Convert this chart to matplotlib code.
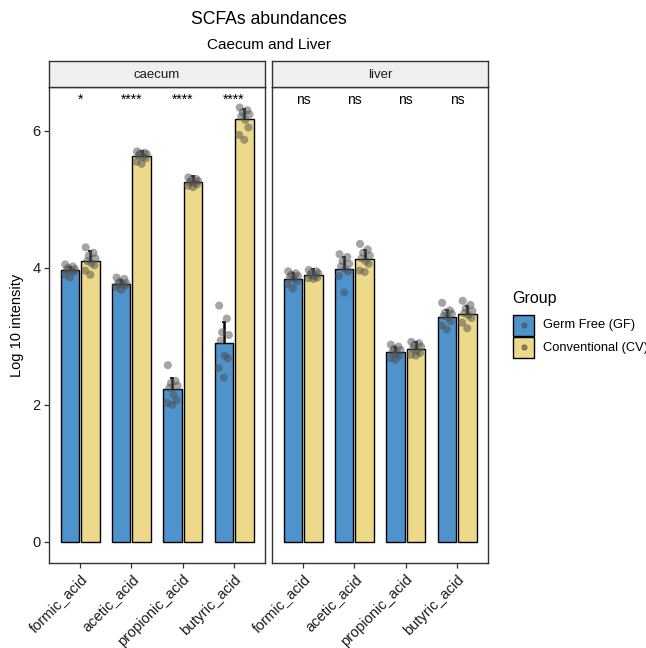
import matplotlib
matplotlib.use("Agg")
import matplotlib.pyplot as plt
import numpy as np
from matplotlib.patches import Rectangle

plt.rcParams["font.family"] = ["Liberation Sans", "DejaVu Sans"]

acids = ["formic_acid", "acetic_acid", "propionic_acid", "butyric_acid"]
tissues = ["caecum", "liver"]
groups = ["Germ Free (GF)", "Conventional (CV)"]
colors = ["#4F93CC", "#ECD98A"]

# bar heights (group means), per tissue: [GF list, CV list]
means = {
    "caecum": [[3.97, 3.77, 2.23, 2.90], [4.10, 5.63, 5.25, 6.17]],
    "liver": [[3.84, 3.99, 2.77, 3.29], [3.90, 4.13, 2.82, 3.33]],
}
# error bar half-widths
errs = {
    "caecum": [[0.05, 0.05, 0.17, 0.31], [0.14, 0.07, 0.09, 0.15]],
    "liver": [[0.08, 0.17, 0.08, 0.10], [0.08, 0.13, 0.10, 0.11]],
}
# individual samples
caecum_gf = [
    [4.05, 4.02, 4.00, 3.98, 3.97, 3.96, 3.94, 3.90, 3.86],
    [3.86, 3.84, 3.80, 3.78, 3.77, 3.76, 3.74, 3.72, 3.68],
    [2.58, 2.35, 2.32, 2.28, 2.25, 2.15, 2.07, 2.03, 2.00],
    [3.45, 3.26, 3.06, 3.02, 2.94, 2.72, 2.68, 2.54, 2.40],
]
caecum_cv = [
    [4.30, 4.22, 4.18, 4.14, 4.10, 4.07, 4.04, 3.96, 3.90],
    [5.70, 5.68, 5.67, 5.66, 5.64, 5.62, 5.60, 5.55, 5.52],
    [5.32, 5.30, 5.28, 5.27, 5.25, 5.24, 5.22, 5.20, 5.18],
    [6.34, 6.30, 6.27, 6.24, 6.21, 6.16, 6.05, 5.94, 5.87],
]
liver_gf = [
    [3.95, 3.92, 3.90, 3.88, 3.86, 3.84, 3.80, 3.76, 3.70],
    [4.20, 4.16, 4.10, 4.06, 4.02, 3.98, 3.95, 3.88, 3.64],
    [2.88, 2.85, 2.82, 2.80, 2.77, 2.75, 2.72, 2.68, 2.66],
    [3.49, 3.38, 3.35, 3.33, 3.30, 3.28, 3.22, 3.16, 3.10],
]
liver_cv = [
    [3.97, 3.95, 3.93, 3.92, 3.90, 3.88, 3.86, 3.85, 3.84],
    [4.35, 4.27, 4.22, 4.18, 4.14, 4.10, 4.06, 3.96, 3.94],
    [2.92, 2.90, 2.88, 2.85, 2.82, 2.79, 2.76, 2.73, 2.72],
    [3.52, 3.46, 3.41, 3.37, 3.34, 3.31, 3.27, 3.20, 3.12],
]
samples = {"caecum": [caecum_gf, caecum_cv], "liver": [liver_gf, liver_cv]}
signif = {
    "caecum": ["*", "****", "****", "****"],
    "liver": ["ns", "ns", "ns", "ns"],
}

# horizontal spread of the sample dots around each bar centre
spread = [-0.09, 0.06, -0.03, 0.10, -0.06, 0.02, 0.08, -0.10, 0.00]
dodge = 0.2
bar_w = 0.36

W, H = 646, 648
fig = plt.figure(figsize=(W / 100, H / 100), dpi=100)

def fx(px):
    return px / W

def fy(py):
    return 1 - py / H

panel_x = [49.3, 272.3]
panel_w = 215.5
panel_top, panel_bot = 87, 563
strip_top = 61

border = "#333333"
axes = []
for i, tissue in enumerate(tissues):
    ax = fig.add_axes([fx(panel_x[i]), fy(panel_bot), fx(panel_w),
                       (panel_bot - panel_top) / H])
    axes.append(ax)
    x = np.arange(1, len(acids) + 1)
    for g in range(2):
        pos = x + (2 * g - 1) * dodge
        m = means[tissue][g]
        e = errs[tissue][g]
        ax.errorbar(pos, m, yerr=e, fmt="none", ecolor="black",
                    elinewidth=1.8, capsize=1.5, capthick=1.2, zorder=1)
        ax.bar(pos, m, width=bar_w, color=colors[g], edgecolor="black",
               linewidth=1.0, zorder=2)
        for k, vals in enumerate(samples[tissue][g]):
            xs = pos[k] + np.array(spread[:len(vals)])
            ax.scatter(xs, vals, s=34, color="#4d4d4d", alpha=0.5,
                       edgecolors="none", zorder=3)
    for k, lab in enumerate(signif[tissue]):
        ax.text(x[k], 6.45, lab, ha="center", va="center", fontsize=10,
                color="black")
    ax.set_xlim(0.4, 4.6)
    ax.set_ylim(-0.307, 6.64)
    ax.set_xticks(x)
    ax.set_xticklabels(acids, rotation=45, ha="right", rotation_mode="anchor",
                       fontsize=10.5, color="#1a1a1a")
    ax.set_yticks([0, 2, 4, 6])
    ax.tick_params(axis="both", length=3.5, width=0.9, color="#333333",
                   labelsize=10.5, labelcolor="#1a1a1a", pad=3)
    for s in ax.spines.values():
        s.set_color(border)
        s.set_linewidth(1.0)
    if i == 1:
        ax.tick_params(axis="y", left=False, labelleft=False)
    # facet strip
    sax = fig.add_axes([fx(panel_x[i]), fy(panel_top), fx(panel_w),
                        (panel_top - strip_top) / H])
    sax.set_facecolor("#efefef")
    sax.set_xticks([])
    sax.set_yticks([])
    for s in sax.spines.values():
        s.set_color(border)
        s.set_linewidth(1.0)
    sax.text(0.5, 0.48, tissue, ha="center", va="center", fontsize=9.5,
             color="#1a1a1a", transform=sax.transAxes)

axes[0].set_ylabel("Log 10 intensity", fontsize=10.5, labelpad=6)

cx = fx(panel_x[0] + (panel_x[1] + panel_w - panel_x[0]) / 2)
fig.text(cx, fy(20), "SCFAs abundances", ha="center", va="center", fontsize=12.7)
fig.text(cx, fy(45), "Caecum and Liver", ha="center", va="center", fontsize=11)

# legend
fig.text(fx(512), fy(299), "Group", ha="left", va="center", fontsize=11.5)
key_y = [314.5, 336.5]
for g in range(2):
    r = Rectangle((fx(513), fy(key_y[g] + 21.5)), fx(21), 21.5 / H,
                  transform=fig.transFigure, facecolor=colors[g],
                  edgecolor="black", linewidth=1.0)
    fig.patches.append(r)
    fig.lines.append(plt.Line2D([fx(523.5)], [fy(key_y[g] + 10.75)],
                                transform=fig.transFigure, marker="o",
                                markersize=3.5, color="#4d4d4d", alpha=0.6,
                                linestyle="none"))
    fig.text(fx(543), fy(key_y[g] + 11), groups[g], ha="left", va="center",
             fontsize=9.3)

fig.savefig("out.png", dpi=100)
